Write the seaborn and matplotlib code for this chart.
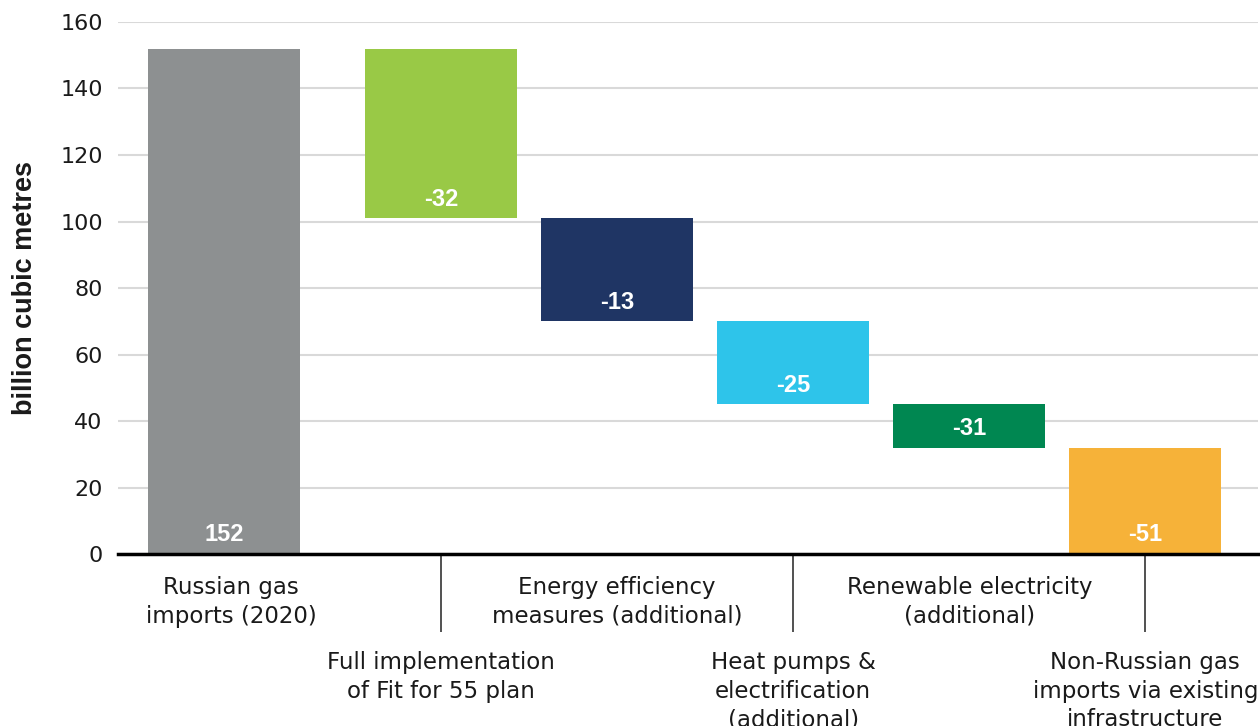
import matplotlib
matplotlib.use("Agg")
import matplotlib.pyplot as plt
import seaborn as sns
import numpy as np

# waterfall steps (billion cubic metres)
categories = [
    "Russian gas\nimports (2020)",
    "Full implementation\nof Fit for 55 plan",
    "Energy efficiency\nmeasures (additional)",
    "Heat pumps &\nelectrification\n(additional)",
    "Renewable electricity\n(additional)",
    "Non-Russian gas\nimports via existing\ninfrastructure",
]
tops = [152, 152, 101, 70, 45, 32]
bottoms = [0, 101, 70, 45, 32, 0]
value_labels = ["152", "-32", "-13", "-25", "-31", "-51"]
bar_colors = ["#8d9091", "#99c946", "#1f3564", "#2ec4ea", "#008751", "#f6b239"]
y_ticks = [0, 20, 40, 60, 80, 100, 120, 140, 160]

heights = np.array(tops) - np.array(bottoms)

# the starting bar sits a bit further left than the regular step spacing
FIRST_SHIFT = -0.233

fig = plt.figure(figsize=(12.6, 7.26), dpi=100)
ax = fig.add_axes([0.0937, 0.2369, 0.905, 0.7328])

# color given up front so seaborn doesn't scout with the bottom array
sns.barplot(x=categories, y=heights, bottom=bottoms, width=0.864,
            color=bar_colors[0], saturation=1, ax=ax)
for i, (patch, c) in enumerate(zip(ax.patches, bar_colors)):
    patch.set_facecolor(c)
    patch.set_edgecolor("none")
    if i == 0:
        patch.set_x(patch.get_x() + FIRST_SHIFT)

centres = np.arange(len(categories), dtype=float)
centres[0] += FIRST_SHIFT

# value labels sit just above each bar's base
for xc, b, lab in zip(centres, bottoms, value_labels):
    ax.annotate(lab, xy=(xc, b), xytext=(0, 5.5), textcoords="offset points",
                ha="center", va="bottom", color="white", fontsize=17,
                fontweight="bold", family="Liberation Sans")

ax.set_xlim(-0.835, 5.642)
ax.set_ylim(0, 160)
ax.set_yticks(y_ticks)
ax.set_yticklabels([str(v) for v in y_ticks], fontsize=16, family="DejaVu Sans")
ax.tick_params(axis="y", length=0, pad=11, colors="#1a1a1a")

ax.set_axisbelow(True)
ax.yaxis.grid(True, color="#d9d9d9", linewidth=1.5)
ax.xaxis.grid(False)

for s in ["left", "right", "top"]:
    ax.spines[s].set_visible(False)
ax.spines["bottom"].set_color("black")
ax.spines["bottom"].set_linewidth(2.5)

# staggered category labels: even ones on top row, odd ones below long ticks
even = [0, 2, 4]
odd = [1, 3, 5]
ax.set_xticks([centres[i] + (0.04 if i == 0 else 0) for i in even],
              labels=[categories[i] for i in even])
ax.set_xticks([centres[i] for i in odd], labels=[categories[i] for i in odd],
              minor=True)
ax.tick_params(axis="x", which="major", length=0, pad=16, labelsize=16.5,
               labelcolor="#1a1a1a")
ax.tick_params(axis="x", which="minor", length=56, width=1.2, color="#333333",
               pad=14, labelsize=16.5, labelcolor="#1a1a1a")
for lab in ax.get_xticklabels(which="both"):
    lab.set_linespacing(1.3)
ax.set_xlabel("")

ax.set_ylabel("billion cubic metres", fontsize=19.5, fontweight="bold",
              family="Liberation Sans", color="#1a1a1a")
ax.yaxis.set_label_coords(-0.07, 0.5)

fig.savefig("out.png", dpi=100)
